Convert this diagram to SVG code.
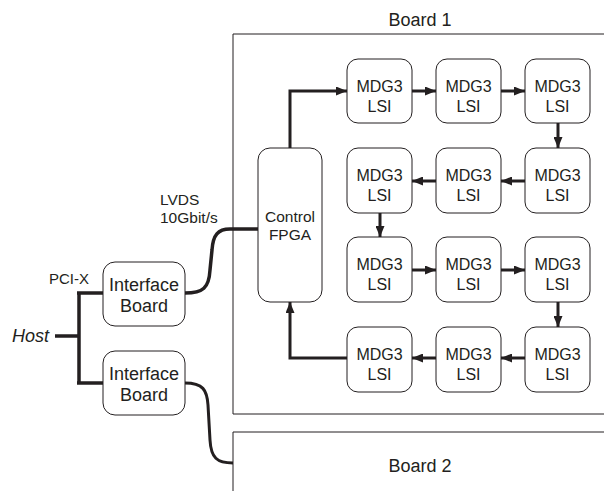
<svg xmlns="http://www.w3.org/2000/svg" width="604" height="491" viewBox="0 0 604 491">
<style>
.box{fill:#fff;stroke:#231f20;stroke-width:1}
.board{fill:none;stroke:#231f20;stroke-width:1}
.t{font-family:"Liberation Sans",Arial,sans-serif;fill:#231f20;text-anchor:middle}
.s{text-anchor:start}
.n{font-size:16px}
.w{fill:none;stroke:#231f20;stroke-width:3.5;stroke-linejoin:miter}
.a{fill:none;stroke:#231f20;stroke-width:3;marker-end:url(#ah)}
</style>
<defs>
<marker id="ah" viewBox="0 0 11 9" refX="11" refY="4.5" markerWidth="11" markerHeight="9" markerUnits="userSpaceOnUse" orient="auto">
<path d="M0,0 L11,4.5 L0,9 z" fill="#231f20"/>
</marker>
</defs>
<rect width="604" height="491" fill="#fff"/>
<g id="board1">
<path class="board" d="M604,34 H233 V414 H604"/>
<text class="t" x="420" y="26" font-size="18">Board 1</text>
</g>
<g id="board2">
<path class="board" d="M604,432 H233 V491"/>
<text class="t" x="420" y="472" font-size="18">Board 2</text>
</g>
<g id="connectors">
<path class="w" d="M55,336 H79 M79,293 V383 M77,293 H103 M77,383 H103"/>
<path class="w" d="M185,293 C203,293 209,288 210,270 L212,250 C213,235 218,229 230,229 H258"/>
<path fill="none" stroke="#231f20" stroke-width="3" d="M185,383 C203,383 207,390 208,405 L210,440 C211,458 217,463 233,463"/>
<path class="a" d="M290,148 V91 H347"/>
<path class="a" d="M412,91 H436"/>
<path class="a" d="M501,91 H525"/>
<path class="a" d="M558,123 V148"/>
<path class="a" d="M525,181 H501"/>
<path class="a" d="M436,181 H412"/>
<path class="a" d="M380,213 V237"/>
<path class="a" d="M412,270 H436"/>
<path class="a" d="M501,270 H525"/>
<path class="a" d="M558,302 V327"/>
<path class="a" d="M525,358 H501"/>
<path class="a" d="M436,358 H412"/>
<path class="a" d="M347,358 H290 V302"/>
</g>
<g id="labels">
<text class="t s" x="12" y="342" font-size="18" font-style="italic">Host</text>
<text class="t" x="69" y="284" font-size="15">PCI-X</text>
<text class="t s" x="160" y="205" font-size="15.5">LVDS</text>
<text class="t s" x="160" y="223" font-size="15.5">10Gbit/s</text>
</g>
<g id="if1">
<rect class="box" x="103" y="262" width="82" height="64" rx="12"/>
<text class="t" x="144" y="291" font-size="18">Interface</text>
<text class="t" x="144" y="312" font-size="18">Board</text>
</g>
<g id="if2">
<rect class="box" x="103" y="351" width="82" height="64" rx="12"/>
<text class="t" x="144" y="380" font-size="18">Interface</text>
<text class="t" x="144" y="401" font-size="18">Board</text>
</g>
<g id="fpga">
<rect class="box" x="258" y="148" width="64" height="154" rx="12"/>
<text class="t" x="290" y="222" font-size="15.5">Control</text>
<text class="t" x="290" y="240" font-size="15.5">FPGA</text>
</g>
<g id="m11"><rect class="box" x="347" y="59" width="65" height="64" rx="11"/><text class="t n" x="379.5" y="92">MDG3</text><text class="t n" x="379.5" y="112">LSI</text></g>
<g id="m12"><rect class="box" x="436" y="59" width="65" height="64" rx="11"/><text class="t n" x="468.5" y="92">MDG3</text><text class="t n" x="468.5" y="112">LSI</text></g>
<g id="m13"><rect class="box" x="525" y="59" width="65" height="64" rx="11"/><text class="t n" x="557.5" y="92">MDG3</text><text class="t n" x="557.5" y="112">LSI</text></g>
<g id="m21"><rect class="box" x="347" y="148" width="65" height="65" rx="11"/><text class="t n" x="379.5" y="181">MDG3</text><text class="t n" x="379.5" y="201">LSI</text></g>
<g id="m22"><rect class="box" x="436" y="148" width="65" height="65" rx="11"/><text class="t n" x="468.5" y="181">MDG3</text><text class="t n" x="468.5" y="201">LSI</text></g>
<g id="m23"><rect class="box" x="525" y="148" width="65" height="65" rx="11"/><text class="t n" x="557.5" y="181">MDG3</text><text class="t n" x="557.5" y="201">LSI</text></g>
<g id="m31"><rect class="box" x="347" y="237" width="65" height="65" rx="11"/><text class="t n" x="379.5" y="270">MDG3</text><text class="t n" x="379.5" y="290">LSI</text></g>
<g id="m32"><rect class="box" x="436" y="237" width="65" height="65" rx="11"/><text class="t n" x="468.5" y="270">MDG3</text><text class="t n" x="468.5" y="290">LSI</text></g>
<g id="m33"><rect class="box" x="525" y="237" width="65" height="65" rx="11"/><text class="t n" x="557.5" y="270">MDG3</text><text class="t n" x="557.5" y="290">LSI</text></g>
<g id="m41"><rect class="box" x="347" y="327" width="65" height="65" rx="11"/><text class="t n" x="379.5" y="360">MDG3</text><text class="t n" x="379.5" y="380">LSI</text></g>
<g id="m42"><rect class="box" x="436" y="327" width="65" height="65" rx="11"/><text class="t n" x="468.5" y="360">MDG3</text><text class="t n" x="468.5" y="380">LSI</text></g>
<g id="m43"><rect class="box" x="525" y="327" width="65" height="65" rx="11"/><text class="t n" x="557.5" y="360">MDG3</text><text class="t n" x="557.5" y="380">LSI</text></g>
</svg>
